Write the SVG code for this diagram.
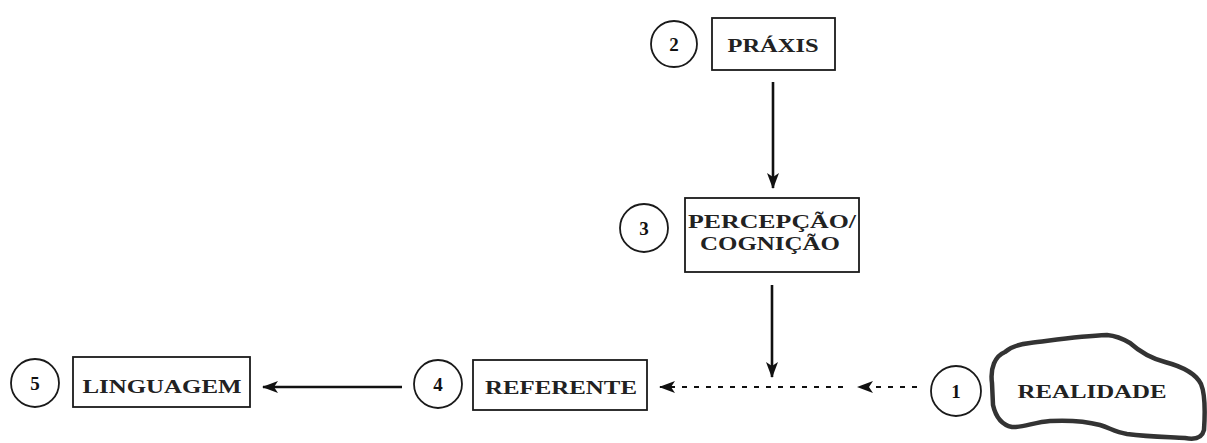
<svg xmlns="http://www.w3.org/2000/svg" width="1207" height="443" viewBox="0 0 1207 443">
<defs>
<style>
.box{fill:#fff;stroke:#1a1a1a;stroke-width:1.8}
.circ{fill:#fff;stroke:#1a1a1a;stroke-width:1.8}
.lbl{font-family:"Liberation Serif",serif;font-weight:bold;font-size:19px;fill:#222;text-anchor:middle}
.num{font-family:"Liberation Serif",serif;font-weight:bold;font-size:19px;fill:#111;text-anchor:middle}
.solid{stroke:#111;stroke-width:2.6;fill:none}
.dash{stroke:#111;stroke-width:2;fill:none;stroke-dasharray:5 7}
</style>
<marker id="ah" viewBox="0 0 16 12" refX="15" refY="6" markerWidth="16" markerHeight="12" markerUnits="userSpaceOnUse" orient="auto">
<path d="M0,0 L16,6 L0,12 L4,6 Z" fill="#111"/>
</marker>
</defs>
<g id="connectors">
<line class="solid" x1="773" y1="82" x2="773" y2="188" marker-end="url(#ah)"/>
<line class="solid" x1="772" y1="285" x2="772" y2="377" marker-end="url(#ah)"/>
<line class="dash" x1="917" y1="387" x2="858" y2="387" marker-end="url(#ah)"/>
<line class="dash" x1="843" y1="387" x2="660" y2="387" marker-end="url(#ah)"/>
<line class="solid" x1="402" y1="387" x2="263" y2="387" stroke-width="1.8" marker-end="url(#ah)"/>
</g>
<g id="n2">
<circle class="circ" cx="674" cy="44" r="23"/>
<text class="num" x="674" y="51">2</text>
</g>
<g id="praxis">
<rect class="box" x="712" y="18" width="123" height="52"/>
<text class="lbl" x="773" y="52" textLength="91" lengthAdjust="spacingAndGlyphs">PRÁXIS</text>
</g>
<g id="n3">
<circle class="circ" cx="644" cy="228" r="24"/>
<text class="num" x="644" y="235">3</text>
</g>
<g id="percepcao">
<rect class="box" x="685" y="198" width="174" height="74"/>
<text class="lbl" x="772" y="228" textLength="168" lengthAdjust="spacingAndGlyphs">PERCEPÇÃO/</text>
<text class="lbl" x="770" y="250" textLength="140" lengthAdjust="spacingAndGlyphs">COGNIÇÃO</text>
</g>
<g id="n4">
<circle class="circ" cx="438" cy="384" r="24"/>
<text class="num" x="438" y="391">4</text>
</g>
<g id="referente">
<rect class="box" x="473" y="360" width="174" height="50"/>
<text class="lbl" x="561" y="394" textLength="152" lengthAdjust="spacingAndGlyphs">REFERENTE</text>
</g>
<g id="n5">
<circle class="circ" cx="35" cy="383" r="24"/>
<text class="num" x="35" y="390">5</text>
</g>
<g id="linguagem">
<rect class="box" x="73" y="357" width="177" height="50"/>
<text class="lbl" x="162" y="393" textLength="159" lengthAdjust="spacingAndGlyphs">LINGUAGEM</text>
</g>
<g id="n1">
<circle class="circ" cx="956" cy="391" r="25"/>
<text class="num" x="956" y="398">1</text>
</g>
<g id="realidade">
<path d="M992,383 C990,368 995,356 1005,352 C1012,346 1020,344 1030,343 C1055,340 1080,336 1107,335 C1118,336 1125,340 1130,343 C1140,352 1150,358 1165,362 C1180,366 1195,372 1201,384 C1206,396 1205,415 1204,430 C1202,438 1195,440 1185,438 C1170,437 1150,437 1127,434 C1115,432 1110,428 1100,425 C1085,421 1070,420 1050,421 C1035,422 1022,428 1012,427 C1002,425 996,418 993,405 Z" fill="none" stroke="#333" stroke-width="4.5" stroke-linejoin="round"/>
<text class="lbl" x="1092" y="398" textLength="149" lengthAdjust="spacingAndGlyphs">REALIDADE</text>
</g>
</svg>
